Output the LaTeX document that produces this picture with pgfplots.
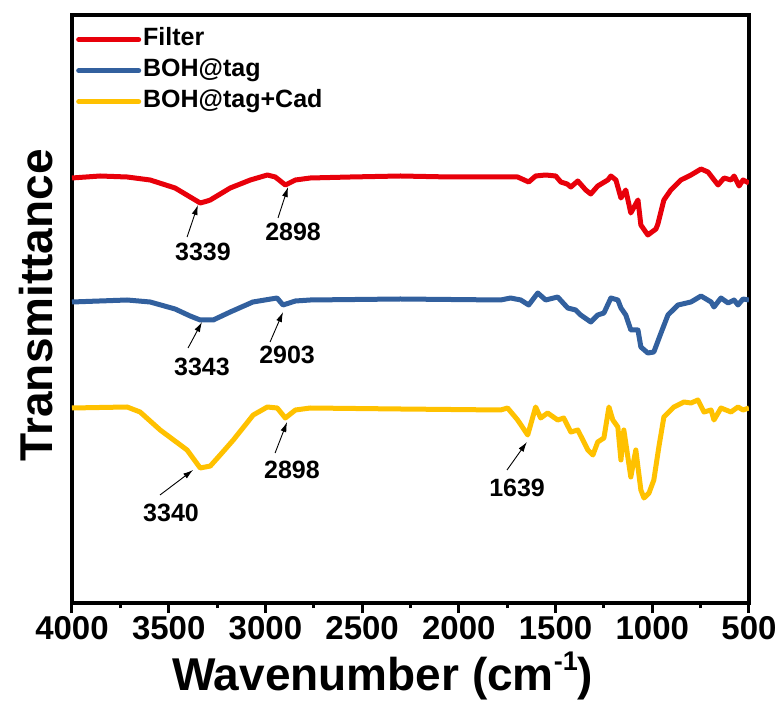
\documentclass[border=0pt]{standalone}
\usepackage{fontspec}
\setmainfont{Liberation Sans}
\usepackage{pgfplots}
\pgfplotsset{compat=1.18}
\usetikzlibrary{arrows.meta}
\definecolor{cred}{RGB}{232,0,10}
\definecolor{cblue}{RGB}{50,96,158}
\definecolor{cyel}{RGB}{255,193,0}

\pgfplotstableread{
w T
4000 425
3855 427
3715 426
3596 423
3467 415
3389 406
3337 400
3300 402
3285 403
3182 415
3078 423
2990 428
2949 426
2897 418
2845 423
2768 425
2561 426
2302 427
2043 426
1784 426
1696 426
1639 421
1603 427
1551 428
1499 427
1473 421
1440 419
1421 416
1385 422
1344 413
1318 409
1282 417
1230 423
1214 427
1188 423
1162 405
1137 413
1111 390
1074 403
1059 378
1023 368
981 374
971 379
940 403
904 413
852 423
800 428
748 434
712 431
696 427
660 418
629 425
593 423
577 427
551 417
531 423
500 420
}\filterdata

\pgfplotstableread{
w T
4000 301
3715 303
3596 301
3467 294
3389 287
3337 283
3270 283
3182 291
3065 301
2940 305
2909 298
2845 302
2768 303
2302 304
1784 303
1732 305
1680 303
1639 298
1592 310
1551 303
1489 306
1437 295
1396 293
1370 288
1318 281
1282 288
1250 290
1214 305
1178 303
1162 295
1137 288
1111 273
1074 273
1059 256
1023 250
992 251
955 270
919 288
867 298
800 301
748 307
696 301
681 296
645 305
608 300
577 303
557 298
531 304
500 303
}\bohdata

\pgfplotstableread{
w T
4000 195
3715 196
3648 191
3544 173
3405 153
3337 135
3285 137
3234 148
3166 163
3063 188
2990 196
2939 195
2897 185
2845 193
2768 195
2302 194
1784 193
1748 195
1696 183
1644 168
1603 196
1577 185
1541 190
1489 183
1458 185
1421 171
1385 173
1333 153
1307 148
1282 161
1250 165
1224 196
1204 183
1178 176
1162 143
1147 173
1111 126
1095 143
1085 153
1059 113
1043 105
1017 110
992 123
966 156
940 186
888 196
836 201
800 200
764 203
733 191
696 193
681 183
645 195
593 191
557 196
531 193
500 195
}\caddata

\begin{document}
\begin{tikzpicture}
\path[use as bounding box] (0,0) rectangle (780bp,701bp);
\begin{axis}[
  at={(72bp,98bp)}, anchor=south west,
  scale only axis, width=677bp, height=587.5bp,
  x dir=reverse, xmin=500, xmax=4000, ymin=0, ymax=587.5,
  xtick={500,1000,...,4000}, minor x tick num=1,
  xtick pos=bottom, tick align=outside,
  ytick=\empty,
  major tick length=10bp, minor tick length=5bp,
  every tick/.append style={black, line width=3bp},
  axis line style={line width=4bp},
  xticklabel style={font=\bfseries\fontsize{33bp}{36bp}\selectfont},
  /pgf/number format/assume math mode=true,
  /pgf/number format/set thousands separator={},
  xlabel={Wavenumber (cm\raisebox{0.42em}{\fontsize{27bp}{27bp}\selectfont -1})},
  ylabel={Transmittance},
  xlabel style={at={(axis description cs:0.459,0)}, anchor=base, yshift=-87bp, font=\bfseries\fontsize{46bp}{50bp}\selectfont},
  ylabel style={at={(axis description cs:-0.0295,0.507)}, rotate=0, anchor=base, font=\bfseries\fontsize{46bp}{50bp}\selectfont},
  legend style={draw=none, fill=none, at={(axis description cs:0,1)}, anchor=north west,
    font=\bfseries\fontsize{25bp}{27bp}\selectfont, row sep=5bp, inner xsep=4bp, inner ysep=11bp,
    nodes={inner sep=2bp, text height=17bp, text depth=5bp}},
  legend image code/.code={\draw[#1, line width=5bp, line cap=round] (0bp,0bp) -- (60bp,0bp);},
  legend cell align=left,
  clip=true,
]
\addplot[cred, line width=5bp, line join=round] table[x=w,y=T] {\filterdata};
\addlegendentry{Filter}
\addplot[cblue, line width=5bp, line join=round] table[x=w,y=T] {\bohdata};
\addlegendentry{BOH@tag}
\addplot[cyel, line width=5bp, line join=round] table[x=w,y=T] {\caddata};
\addlegendentry{BOH@tag+Cad}

\tikzset{ann/.style={font=\bfseries\fontsize{25bp}{27bp}\selectfont, inner sep=0pt},
  arr/.style={-{Latex[length=10bp,width=6bp]}, line width=0.9bp, black}}
\draw[arr] (axis cs:3405,366) -- (axis cs:3349,398);
\node[ann] at (axis cs:3323,351) {3339};
\draw[arr] (axis cs:2935,385) -- (axis cs:2883,416);
\node[ann] at (axis cs:2857,371) {2898};
\draw[arr] (axis cs:3400,255) -- (axis cs:3328,281);
\node[ann] at (axis cs:3328,236) {3343};
\draw[arr] (axis cs:2976,261) -- (axis cs:2909,291);
\node[ann] at (axis cs:2888,248) {2903};
\draw[arr] (axis cs:3545,108) -- (axis cs:3374,133);
\node[ann] at (axis cs:3488,90) {3340};
\draw[arr] (axis cs:2950,150) -- (axis cs:2888,181);
\node[ann] at (axis cs:2863,133) {2898};
\draw[arr] (axis cs:1751,133) -- (axis cs:1648,161);
\node[ann] at (axis cs:1699,115) {1639};
\end{axis}
\end{tikzpicture}
\end{document}
